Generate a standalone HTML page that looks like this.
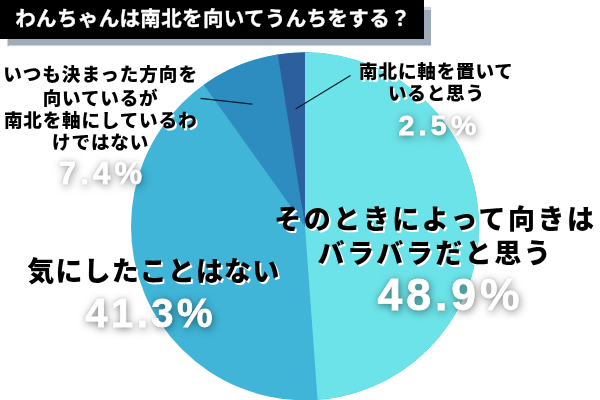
<!DOCTYPE html>
<html lang="ja"><head><meta charset="utf-8"><title>わんちゃんは南北を向いてうんちをする？</title>
<style>
html,body{margin:0;padding:0;}
body{width:600px;height:400px;overflow:hidden;background:#fff;position:relative;font-family:"Liberation Sans","Noto Sans CJK JP",sans-serif;font-weight:bold;}
svg{position:absolute;left:0;top:0;}
.title{position:absolute;left:0;top:0;width:424px;height:39px;background:#000;box-shadow:6.5px 7px 1px 0 #9fabb9;color:#fff;-webkit-text-stroke:0.35px #fff;font-weight:700;font-size:20.5px;letter-spacing:0.36px;line-height:39px;white-space:nowrap;}
.title span{position:absolute;left:15.2px;top:-1px;}
.lbl{position:absolute;color:#000;font-weight:900;text-align:center;white-space:nowrap;text-shadow:1.8px 1.8px 0 #fff;transform:translateX(-50%);}
.pct{position:absolute;color:#fff;white-space:nowrap;-webkit-text-stroke:0.8px #fff;text-shadow:1px 2px 8px rgba(0,0,0,0.55),0 0 3px rgba(0,0,0,0.2);transform:translateX(-50%);font-family:"Liberation Sans",sans-serif;}
</style></head><body>
<svg width="600" height="400" viewBox="0 0 600 400">
<circle cx="305" cy="226.3" r="174" fill="#40b5d7"/>
<path d="M305,226.3 L274.81,54.94 A174,174 0 0 1 308.04,52.33 Z" fill="#2b5f9e"/>
<path d="M305,226.3 L203.70,84.83 A174,174 0 0 1 277.81,54.44 Z" fill="#2d8cc0"/>
<path d="M305,226.3 L305.00,52.30 A174,174 0 0 1 317.55,399.85 Z" fill="#6ce3e8"/>
<line x1="200.5" y1="98.4" x2="252.4" y2="104.1" stroke="#0a1a2a" stroke-width="1.2"/>
<line x1="295.6" y1="108.9" x2="350.5" y2="75.6" stroke="#0a1a2a" stroke-width="1.2"/>
</svg>
<div class="title"><span id="tt">わんちゃんは南北を向いてうんちをする？</span></div>

<div class="lbl" id="l1" style="left:100.6px;top:65.6px;font-size:18.6px;letter-spacing:0.8px;line-height:22.2px;"><span style="position:relative;top:-1.4px;letter-spacing:0.95px;">いつも決まった方向を</span><br>向いているが<br>南北を軸にしているわ<br>けではない</div>
<div class="pct" id="p1" style="left:102.5px;top:157px;font-size:31px;letter-spacing:4.2px;line-height:34px;">7.4%</div>

<div class="lbl" id="l2" style="left:436.4px;top:61.4px;font-size:18.6px;letter-spacing:0.8px;line-height:22px;">南北に軸を置いて<br>いると思う</div>
<div class="pct" id="p2" style="left:439.5px;top:109px;font-size:28.5px;letter-spacing:4.3px;line-height:32px;">2.5%</div>

<div class="lbl" id="l3" style="left:153.8px;top:253px;font-size:27px;letter-spacing:1.1px;line-height:38px;">気にしたことはない</div>
<div class="pct" id="p3" style="left:150.6px;top:290px;font-size:40px;letter-spacing:3.5px;line-height:46px;">41.3%</div>

<div class="lbl" id="l4" style="left:435.4px;top:203.2px;font-size:27px;letter-spacing:2.5px;line-height:34px;">そのときによって向きは<br>バラバラだと思う</div>
<div class="pct" id="p4" style="left:450.5px;top:270px;font-size:44.5px;letter-spacing:4px;line-height:50px;">48.9%</div>
</body></html>
